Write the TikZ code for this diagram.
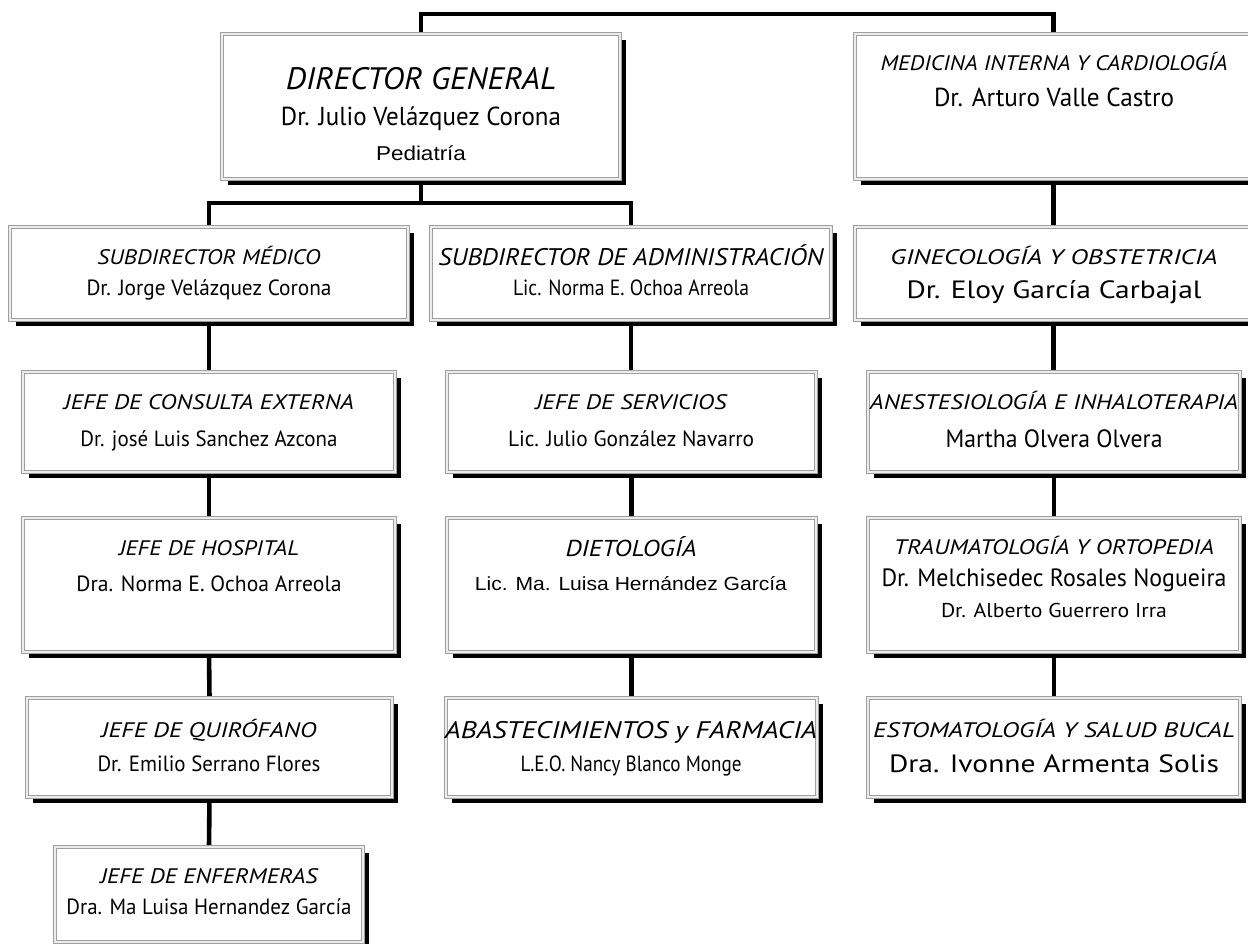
\documentclass[tikz,border=0pt]{standalone}
\usepackage{fontspec}
\usepackage{graphicx}
\setmainfont{PT Sans}
\newfontfamily\arialfont{Liberation Sans}
\usetikzlibrary{shadows,backgrounds}
\newcommand{\fw}[2]{\resizebox{#1pt}{\height}{#2}}
\tikzset{
  box/.style={rectangle, draw=gray!75, double=gray!15, double distance=1.2pt, line width=1.3pt, fill=white,
    drop shadow={shadow xshift=5.5pt, shadow yshift=-5.5pt, fill=black, opacity=1},
    inner sep=0pt, outer sep=0pt},
  ttl/.style={font=\fontsize{21}{21}\selectfont\itshape, inner sep=0pt, anchor=base},
  nm/.style={font=\fontsize{22}{22}\selectfont, inner sep=0pt, anchor=base},
  ar/.style={font=\arialfont\fontsize{20}{20}\selectfont, inner sep=0pt, anchor=base},
  conn/.style={line width=4.6pt, black, line join=miter},
}
% \obox{name}{x1}{y1}{x2}{y2}
\newcommand{\obox}[5]{%
  \node[box, minimum width={(#4-#2)*1pt}, minimum height={(#5-#3)*1pt}] (#1) at ({(#2+#4)/2},{(#3+#5)/2}) {};}
\begin{document}
\begin{tikzpicture}[x=1pt,y=-1pt]
\useasboundingbox (0,0) rectangle (1248,943);

% boxes
\obox{dir}{222}{34}{620}{179}
\obox{med}{855}{34}{1252}{179}
\obox{sm}{10}{227}{408}{320}
\obox{sa}{431}{227}{831}{320}
\obox{gin}{855}{227}{1252}{320}
\obox{ce}{23}{372}{395}{472}
\obox{js}{447}{372}{816}{472}
\obox{an}{868}{372}{1240}{472}
\obox{ho}{23}{518}{395}{652}
\obox{di}{447}{518}{816}{652}
\obox{tr}{868}{518}{1240}{652}
\obox{qu}{27}{698}{392}{797}
\obox{ab}{446}{698}{817}{797}
\obox{es}{868}{698}{1240}{797}
\obox{en}{55}{847}{363}{942}

% texts
\node[ttl, font=\fontsize{31}{31}\selectfont\itshape] (dir-a) at (421,89) {\fw{270}{DIRECTOR GENERAL}};
\node[nm, font=\fontsize{26}{26}\selectfont] (dir-b) at (421,125) {\fw{280}{Dr. Julio Velázquez Corona}};
\node[ar] (dir-c) at (421,160) {\fw{90}{Pediatría}};

\node[ttl] (med-a) at (1054,70) {\fw{347}{MEDICINA INTERNA Y CARDIOLOGÍA}};
\node[nm, font=\fontsize{26}{26}\selectfont] (med-b) at (1054,106) {\fw{240}{Dr. Arturo Valle Castro}};

\node[ttl] (sm-a) at (209,264) {\fw{223}{SUBDIRECTOR MÉDICO}};
\node[nm] (sm-b) at (209,295) {\fw{245}{Dr. Jorge Velázquez Corona}};

\node[ttl, font=\fontsize{24}{24}\selectfont\itshape] (sa-a) at (631,265) {\fw{385}{SUBDIRECTOR DE ADMINISTRACIÓN}};
\node[nm] (sa-b) at (631,295) {\fw{236}{Lic. Norma E. Ochoa Arreola}};

\node[ttl] (gin-a) at (1054,264) {\fw{327}{GINECOLOGÍA Y OBSTETRICIA}};
\node[nm, font=\fontsize{25}{25}\selectfont] (gin-b) at (1054,298) {\fw{295}{Dr. Eloy García Carbajal}};

\node[ttl] (ce-a) at (209,409) {\fw{290}{JEFE DE CONSULTA EXTERNA}};
\node[nm] (ce-b) at (209,446) {\fw{257}{Dr. josé Luis Sanchez Azcona}};

\node[ttl] (js-a) at (631,409) {\fw{191}{JEFE DE SERVICIOS}};
\node[nm] (js-b) at (631,446) {\fw{246}{Lic. Julio González Navarro}};

\node[ttl] (an-a) at (1054,409) {\fw{368}{ANESTESIOLOGÍA E INHALOTERAPIA}};
\node[nm, font=\fontsize{25}{25}\selectfont] (an-b) at (1054,447) {\fw{217}{Martha Olvera Olvera}};

\node[ttl] (ho-a) at (209,555) {\fw{180}{JEFE DE HOSPITAL}};
\node[nm] (ho-b) at (209,591) {\fw{265}{Dra. Norma E. Ochoa Arreola}};

\node[ttl, font=\fontsize{23}{23}\selectfont\itshape] (di-a) at (631,556) {\fw{131}{DIETOLOGÍA}};
\node[ar, font=\arialfont\fontsize{19}{19}\selectfont] (di-b) at (631,590) {\fw{312}{Lic. Ma. Luisa Hernández García}};

\node[ttl] (tr-a) at (1054,554) {\fw{320}{TRAUMATOLOGÍA Y ORTOPEDIA}};
\node[nm, font=\fontsize{25}{25}\selectfont] (tr-b) at (1054,586) {\fw{345}{Dr. Melchisedec Rosales Nogueira}};
\node[nm, font=\fontsize{20}{20}\selectfont] (tr-c) at (1054,617) {\fw{226}{Dr. Alberto Guerrero Irra}};

\node[ttl] (qu-a) at (209,737) {\fw{215}{JEFE DE QUIRÓFANO}};
\node[nm] (qu-b) at (209,771) {\fw{223}{Dr. Emilio Serrano Flores}};

\node[ttl, font=\fontsize{24}{24}\selectfont\itshape] (ab-a) at (631,738) {\fw{372}{ABASTECIMIENTOS y FARMACIA}};
\node[nm] (ab-b) at (631,771) {\fw{221}{L.E.O. Nancy Blanco Monge}};

\node[ttl] (es-a) at (1054,737) {\fw{362}{ESTOMATOLOGÍA Y SALUD BUCAL}};
\node[nm, font=\fontsize{25}{25}\selectfont] (es-b) at (1054,772) {\fw{330}{Dra. Ivonne Armenta Solis}};

\node[ttl] (en-a) at (209,883) {\fw{217}{JEFE DE ENFERMERAS}};
\node[nm] (en-b) at (209,914) {\fw{285}{Dra. Ma Luisa Hernandez García}};

% connectors
\coordinate (topbar) at (0,14);
\coordinate (hbar) at (0,203);
\begin{scope}[on background layer]
\draw[conn] (dir.north) -- (dir.north |- topbar) -| (med.north);
\draw[conn] (dir.south) -- (dir.south |- hbar);
\draw[conn] (sm.north) -- (sm.north |- hbar) -| (sa.north);
\draw[conn] (med.south) -- (gin.north);
\draw[conn] (sm.south) -- (ce.north);
\draw[conn] (ce.south) -- (ho.north);
\draw[conn] (ho.south) -- (qu.north);
\draw[conn] (qu.south) -- (en.north);
\draw[conn] (sa.south) -- (sa.south |- js.north);
\draw[conn] (js.south) -- (di.north);
\draw[conn] (di.south) -- (ab.north);
\draw[conn] (gin.south) -- (gin.south |- an.north);
\draw[conn] (an.south) -- (tr.north);
\draw[conn] (tr.south) -- (es.north);
\end{scope}
\end{tikzpicture}
\end{document}
